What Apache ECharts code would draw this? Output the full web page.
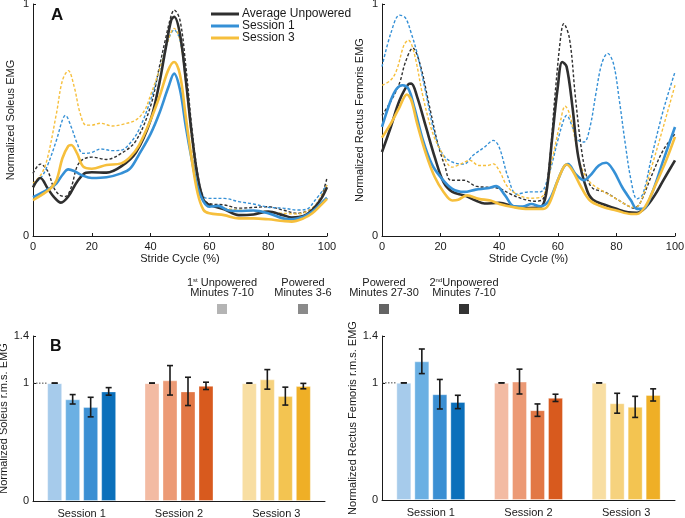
<!DOCTYPE html>
<html>
<head>
<meta charset="utf-8">
<script src="https://cdn.jsdelivr.net/npm/echarts@6/dist/echarts.min.js"></script>
<style>
  html, body { margin: 0; background: #fff; }
  #main { width: 685px; height: 518px; }
</style>
</head>
<body>
<div id="main"></div>
<script>
// ---- panel A: normalized EMG over the stride cycle, [stride %, value] ----
var soleusAvgUnpowered = [[0,0.21],[2.5,0.25],[5,0.205],[7,0.17],[9.5,0.144],[12,0.17],[15,0.234],[18,0.273],[20,0.275],[25,0.273],[30,0.30],[35,0.36],[40,0.50],[43,0.66],[45,0.80],[47,0.93],[48,0.945],[50,0.87],[52,0.67],[54,0.44],[56,0.256],[58,0.155],[60,0.134],[65,0.115],[70,0.09],[75,0.093],[80,0.105],[85,0.09],[88,0.08],[92,0.086],[95,0.112],[98,0.16],[100,0.21]];
var soleusAvgPowered = [[0,0.27],[2.5,0.31],[5,0.28],[7,0.21],[9,0.177],[11,0.17],[13,0.21],[15,0.30],[17,0.33],[20,0.34],[25,0.33],[30,0.356],[35,0.41],[40,0.56],[43,0.73],[45,0.845],[47,0.95],[48,0.974],[50,0.93],[52,0.73],[54,0.47],[56,0.27],[58,0.16],[60,0.14],[65,0.134],[70,0.12],[80,0.126],[85,0.112],[90,0.098],[95,0.12],[98,0.17],[100,0.25]];
var soleusS1 = [[0,0.167],[3,0.187],[6,0.208],[8,0.227],[10,0.263],[12,0.287],[14,0.28],[17,0.26],[20,0.25],[25,0.253],[30,0.27],[33,0.29],[36,0.35],[40,0.44],[43,0.53],[46,0.64],[48,0.70],[50,0.63],[52,0.47],[54,0.33],[56,0.21],[58,0.148],[60,0.126],[63,0.13],[66,0.112],[70,0.108],[75,0.11],[80,0.098],[85,0.076],[88,0.072],[92,0.083],[95,0.105],[98,0.14],[100,0.165]];
var soleusS1Powered = [[0,0.22],[3,0.256],[5,0.306],[8,0.414],[10,0.50],[11,0.52],[13,0.47],[15,0.40],[17,0.356],[20,0.36],[23,0.375],[27,0.368],[30,0.37],[33,0.40],[36,0.457],[40,0.586],[43,0.715],[46,0.845],[48,0.888],[50,0.845],[52,0.66],[54,0.44],[56,0.256],[58,0.17],[60,0.162],[65,0.162],[70,0.148],[75,0.138],[80,0.124],[85,0.12],[90,0.112],[93,0.115],[96,0.155],[100,0.22]];
var soleusS3 = [[0,0.155],[3,0.177],[6,0.205],[8,0.24],[10,0.335],[12,0.388],[13,0.392],[15,0.356],[17,0.30],[20,0.29],[25,0.306],[30,0.313],[33,0.34],[36,0.39],[40,0.50],[43,0.60],[46,0.715],[48,0.75],[50,0.695],[52,0.51],[54,0.33],[56,0.184],[58,0.112],[60,0.098],[65,0.09],[70,0.076],[75,0.076],[80,0.072],[85,0.065],[88,0.062],[92,0.076],[95,0.098],[98,0.134],[100,0.16]];
var soleusS3Powered = [[0,0.227],[3,0.27],[5,0.34],[8,0.53],[10,0.67],[12,0.713],[14,0.644],[16,0.53],[18,0.478],[20,0.478],[23,0.486],[27,0.474],[30,0.48],[35,0.50],[38,0.543],[40,0.608],[43,0.715],[46,0.845],[48,0.895],[50,0.845],[52,0.66],[54,0.414],[56,0.21],[58,0.148],[60,0.134],[65,0.12],[70,0.112],[80,0.105],[85,0.098],[90,0.095],[95,0.12],[98,0.17],[100,0.22]];

var rfAvgUnpowered = [[0,0.362],[3,0.47],[6,0.585],[9,0.654],[10,0.657],[12,0.60],[15,0.47],[18,0.34],[21,0.232],[24,0.19],[28,0.175],[32,0.153],[35,0.14],[40,0.143],[45,0.127],[50,0.121],[54,0.124],[56,0.18],[58,0.412],[60,0.643],[61.5,0.75],[63,0.73],[65,0.556],[67,0.34],[70,0.196],[72,0.156],[76,0.135],[80,0.117],[84,0.102],[87,0.10],[90,0.124],[93,0.174],[96,0.24],[100,0.326]];
var rfAvgPowered = [[0,0.52],[3,0.58],[6,0.66],[8,0.75],[10.5,0.81],[13,0.74],[16,0.57],[19,0.40],[21.5,0.30],[23.5,0.24],[28,0.24],[32,0.215],[36,0.21],[40,0.205],[44,0.18],[48,0.16],[52,0.15],[55,0.16],[57,0.30],[59,0.6],[61,0.86],[62,0.915],[64,0.85],[66,0.60],[68,0.38],[70,0.25],[72,0.205],[76,0.19],[80,0.16],[84,0.13],[86,0.12],[88,0.14],[92,0.26],[96,0.37],[100,0.44]];
var rfS1 = [[0,0.47],[3,0.585],[5,0.635],[7,0.65],[9,0.635],[11,0.556],[14,0.412],[17,0.31],[20,0.254],[24,0.203],[28,0.19],[32,0.20],[36,0.206],[39,0.215],[42,0.175],[45,0.128],[48,0.127],[51,0.138],[54,0.128],[57,0.153],[60,0.24],[62,0.297],[63.5,0.31],[66,0.268],[69,0.24],[71,0.26],[74,0.304],[76.5,0.316],[79,0.282],[82,0.21],[85,0.153],[87,0.117],[89,0.117],[92,0.18],[96,0.326],[100,0.47]];
var rfS1Powered = [[0,0.73],[3,0.873],[6,0.952],[8,0.94],[10,0.873],[12,0.787],[15,0.614],[18,0.44],[21,0.347],[25,0.314],[28,0.31],[31,0.347],[35,0.383],[38,0.412],[40,0.383],[43,0.254],[46,0.18],[50,0.19],[54,0.19],[57,0.268],[60,0.412],[62,0.50],[63,0.52],[65,0.47],[67,0.412],[69,0.405],[71,0.47],[73,0.614],[75,0.743],[77,0.787],[79,0.743],[81,0.585],[83,0.40],[85,0.24],[87,0.16],[89,0.18],[92,0.34],[96,0.542],[100,0.707]];
var rfS3 = [[0,0.424],[3,0.484],[6,0.556],[8.5,0.61],[10,0.585],[12,0.484],[15,0.354],[18,0.254],[21,0.19],[24,0.153],[26,0.156],[29,0.175],[33,0.16],[37,0.153],[40,0.138],[45,0.124],[50,0.117],[55,0.117],[57,0.138],[60,0.24],[62,0.297],[63,0.308],[65,0.282],[68,0.21],[71,0.153],[75,0.127],[80,0.11],[85,0.095],[87,0.095],[90,0.13],[93,0.21],[97,0.326],[100,0.427]];
var rfS3Powered = [[0,0.65],[3,0.672],[5,0.715],[7.5,0.823],[9,0.844],[11,0.787],[14,0.60],[17,0.455],[20,0.369],[24,0.297],[27,0.311],[30,0.326],[33,0.304],[36,0.304],[38,0.311],[40,0.282],[43,0.21],[47,0.174],[51,0.163],[55,0.174],[58,0.326],[61,0.50],[62.5,0.56],[64,0.527],[66,0.412],[68,0.297],[71,0.232],[75,0.196],[80,0.16],[84,0.13],[86,0.124],[88,0.138],[92,0.297],[96,0.47],[100,0.65]];

// ---- panel B: r.m.s. EMG per session (Session 1, 2, 3) ----
var sessions = ['Session 1', 'Session 2', 'Session 3'];
var conditions = ['1st Unpowered Minutes 7-10', 'Powered Minutes 3-6', 'Powered Minutes 27-30', '2nd Unpowered Minutes 7-10'];

var soleusUnp1 = [1.0, 1.0, 1.0];
var soleusPow36 = [0.863, 1.024, 1.032];
var soleusPow2730 = [0.797, 0.93, 0.89];
var soleusUnp2 = [0.93, 0.977, 0.975];
var soleusUnp1Err = [0, 0, 0];
var soleusPow36Err = [0.04, 0.125, 0.083];
var soleusPow2730Err = [0.083, 0.12, 0.076];
var soleusUnp2Err = [0.032, 0.031, 0.023];

var rfUnp1 = [1.0, 1.0, 1.0];
var rfPow36 = [1.184, 1.011, 0.826];
var rfPow2730 = [0.903, 0.767, 0.795];
var rfUnp2 = [0.837, 0.872, 0.897];
var rfUnp1Err = [0, 0, 0];
var rfPow36Err = [0.105, 0.106, 0.085];
var rfPow2730Err = [0.126, 0.053, 0.09];
var rfUnp2Err = [0.057, 0.031, 0.052];

// colours: [session][condition]
var barColors = [
  ['#a6cbeb', '#6bb0e3', '#3b8fd3', '#0b70bb'],
  ['#f3bba3', '#ec9a75', '#e27745', '#d85a1e'],
  ['#f8dea2', '#f6d27e', '#f3c451', '#efaf26']
];
var keyColors = ['#b4b4b4', '#8a8a8a', '#646464', '#333333'];

var BLACK = '#2f2f2f', BLUE = '#3590d6', YELLOW = '#f6bf3c';
var FONT = 'Liberation Sans, Arial, Helvetica, sans-serif';
var BAR_W = 15, BAR_STEP = 18;

var chart = echarts.init(document.getElementById('main'), null, { renderer: 'canvas' });

function lineSeries(name, data, color, dashed, grid) {
  return {
    name: name, type: 'line', data: data,
    xAxisIndex: grid, yAxisIndex: grid,
    smooth: 0.35, showSymbol: false, symbol: 'none',
    z: dashed ? 2 : 3,
    lineStyle: dashed ? { color: color, width: 1.4, type: [3, 2] } : { color: color, width: 2.6 },
    itemStyle: { color: color }
  };
}

function barSeries(name, vals, cond, grid) {
  return {
    name: name, type: 'bar',
    xAxisIndex: grid, yAxisIndex: grid,
    barWidth: BAR_W, barGap: '20%',
    data: vals.map(function (v, s) {
      return { value: v, itemStyle: { color: barColors[s][cond] } };
    }),
    itemStyle: { borderColor: 'rgba(255,255,255,0.35)', borderWidth: 1 }
  };
}

function errData(groups) {
  var out = [];
  groups.forEach(function (g, k) {
    g[0].forEach(function (v, s) { out.push([s, v, g[1][s], k]); });
  });
  return out;
}

function errorBarItem(params, api) {
  var s = api.value(0), v = api.value(1), e = api.value(2), k = api.value(3);
  var c = api.coord([s, v]);
  var x = c[0] + (k - 1.5) * BAR_STEP;
  var top = api.coord([s, v + e])[1];
  var bot = api.coord([s, v - e])[1];
  var st = { stroke: '#1a1a1a', lineWidth: 1.6 };
  var children = [
    { type: 'line', shape: { x1: x, y1: top, x2: x, y2: bot }, style: st },
    { type: 'line', shape: { x1: x - 3, y1: top, x2: x + 3, y2: top }, style: st },
    { type: 'line', shape: { x1: x - 3, y1: bot, x2: x + 3, y2: bot }, style: st }
  ];
  if (k === 0 && s === 0) {
    children.push({
      type: 'line',
      shape: { x1: params.coordSys.x, y1: c[1], x2: x - BAR_W / 2, y2: c[1] },
      style: { stroke: '#444', lineWidth: 1, lineDash: [1.5, 1.5] }
    });
  }
  return { type: 'group', children: children };
}

var axisTxt = { color: '#1a1a1a', fontSize: 11, fontFamily: FONT };
var axisLn = { show: true, lineStyle: { color: '#1a1a1a', width: 1 } };

function strideX(grid) {
  return {
    type: 'value', gridIndex: grid, min: 0, max: 100, interval: 20,
    name: 'Stride Cycle (%)', nameLocation: 'middle', nameGap: 17,
    nameTextStyle: axisTxt,
    axisLine: axisLn, axisTick: { show: true, inside: true, length: 3, lineStyle: { color: '#1a1a1a' } },
    axisLabel: Object.assign({ margin: 5 }, axisTxt), splitLine: { show: false }
  };
}
function emgY(grid, name) {
  return {
    type: 'value', gridIndex: grid, min: 0, max: 1, interval: 1,
    name: name, nameLocation: 'middle', nameGap: 17,
    nameTextStyle: axisTxt,
    axisLine: axisLn, axisTick: { show: true, inside: true, length: 3, lineStyle: { color: '#1a1a1a' } },
    axisLabel: Object.assign({ margin: 4 }, axisTxt), splitLine: { show: false }
  };
}
function sessionX(grid) {
  return {
    type: 'category', gridIndex: grid, data: sessions,
    axisLine: axisLn, axisTick: { show: false },
    axisLabel: Object.assign({ margin: 7 }, axisTxt)
  };
}
function rmsY(grid, name) {
  return {
    type: 'value', gridIndex: grid, min: 0, max: 1.4,
    name: name, nameLocation: 'middle', nameGap: 17,
    nameTextStyle: axisTxt,
    axisLine: axisLn,
    axisTick: { show: true, inside: true, length: 3, customValues: [0, 1, 1.4], lineStyle: { color: '#1a1a1a' } },
    axisLabel: Object.assign({ margin: 4, customValues: [0, 1, 1.4] }, axisTxt),
    splitLine: { show: false }
  };
}

function keyItem(cx, line1, line2, color) {
  return {
    type: 'group',
    children: [
      { type: 'text', x: cx, y: 277, style: { text: line1, rich: {
          n: { fontSize: 11, fontFamily: FONT, fill: '#1a1a1a', lineHeight: 11 },
          sup: { fontSize: 6, fontFamily: FONT, fill: '#1a1a1a', lineHeight: 6, verticalAlign: 'top' }
        }, align: 'center', verticalAlign: 'top' } },
      { type: 'text', x: cx, y: 287, style: { text: line2, fontSize: 11, fontFamily: FONT, fill: '#1a1a1a', align: 'center', verticalAlign: 'top' } },
      { type: 'rect', shape: { x: cx - 5, y: 304, width: 10, height: 10 }, style: { fill: color } }
    ]
  };
}

chart.setOption({
  animation: false,
  backgroundColor: '#fff',
  textStyle: { fontFamily: FONT },
  grid: [
    { left: 33, width: 294, top: 4, height: 232, outerBoundsMode: 'none' },
    { left: 382, width: 293, top: 4, height: 232, outerBoundsMode: 'none' },
    { left: 33, width: 292, top: 336, height: 165, outerBoundsMode: 'none' },
    { left: 382, width: 293, top: 336, height: 164, outerBoundsMode: 'none' }
  ],
  xAxis: [strideX(0), strideX(1), sessionX(2), sessionX(3)],
  yAxis: [
    emgY(0, 'Normalized Soleus EMG'),
    emgY(1, 'Normalized Rectus Femoris EMG'),
    rmsY(2, 'Normalized Soleus r.m.s. EMG'),
    rmsY(3, 'Normalized Rectus Femoris r.m.s. EMG')
  ],
  legend: {
    data: ['Average Unpowered', 'Session 1', 'Session 3'],
    orient: 'vertical', left: 211, top: 8, padding: 0, itemGap: 0,
    icon: 'rect', itemWidth: 28, itemHeight: 3,
    textStyle: { fontSize: 12, fontFamily: FONT, color: '#1a1a1a', lineHeight: 12, padding: [0, 0, 0, -2] },
    selectedMode: false
  },
  series: [
    lineSeries('Average Powered', soleusAvgPowered, BLACK, true, 0),
    lineSeries('Session 1 Powered', soleusS1Powered, BLUE, true, 0),
    lineSeries('Session 3 Powered', soleusS3Powered, YELLOW, true, 0),
    lineSeries('Average Unpowered', soleusAvgUnpowered, BLACK, false, 0),
    lineSeries('Session 1', soleusS1, BLUE, false, 0),
    lineSeries('Session 3', soleusS3, YELLOW, false, 0),

    lineSeries('Average Powered', rfAvgPowered, BLACK, true, 1),
    lineSeries('Session 1 Powered', rfS1Powered, BLUE, true, 1),
    lineSeries('Session 3 Powered', rfS3Powered, YELLOW, true, 1),
    lineSeries('Average Unpowered', rfAvgUnpowered, BLACK, false, 1),
    lineSeries('Session 1', rfS1, BLUE, false, 1),
    lineSeries('Session 3', rfS3, YELLOW, false, 1),

    barSeries(conditions[0], soleusUnp1, 0, 2),
    barSeries(conditions[1], soleusPow36, 1, 2),
    barSeries(conditions[2], soleusPow2730, 2, 2),
    barSeries(conditions[3], soleusUnp2, 3, 2),
    {
      type: 'custom', xAxisIndex: 2, yAxisIndex: 2, z: 5,
      renderItem: errorBarItem, encode: { x: 0, y: 1 },
      data: errData([[soleusUnp1, soleusUnp1Err], [soleusPow36, soleusPow36Err], [soleusPow2730, soleusPow2730Err], [soleusUnp2, soleusUnp2Err]])
    },

    barSeries(conditions[0], rfUnp1, 0, 3),
    barSeries(conditions[1], rfPow36, 1, 3),
    barSeries(conditions[2], rfPow2730, 2, 3),
    barSeries(conditions[3], rfUnp2, 3, 3),
    {
      type: 'custom', xAxisIndex: 3, yAxisIndex: 3, z: 5,
      renderItem: errorBarItem, encode: { x: 0, y: 1 },
      data: errData([[rfUnp1, rfUnp1Err], [rfPow36, rfPow36Err], [rfPow2730, rfPow2730Err], [rfUnp2, rfUnp2Err]])
    }
  ],
  graphic: [
    { type: 'text', left: 51, top: 7, style: { text: 'A', fontSize: 17, fontWeight: 'bold', fontFamily: FONT, fill: '#111' } },
    { type: 'text', left: 50, top: 339, style: { text: 'B', fontSize: 16, fontWeight: 'bold', fontFamily: FONT, fill: '#111' } },
    keyItem(222, '{n|1}{sup|st}{n| Unpowered}', 'Minutes 7-10', keyColors[0]),
    keyItem(303, '{n|Powered}', 'Minutes 3-6', keyColors[1]),
    keyItem(384, '{n|Powered}', 'Minutes 27-30', keyColors[2]),
    keyItem(464, '{n|2}{sup|nd}{n|Unpowered}', 'Minutes 7-10', keyColors[3])
  ]
});
</script>
</body>
</html>
